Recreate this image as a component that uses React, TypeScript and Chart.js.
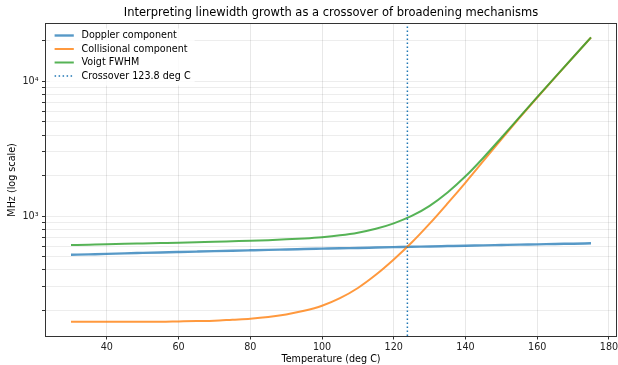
import React, { useEffect, useRef } from 'react';
import { Chart, registerables } from 'chart.js';

Chart.register(...registerables);

// ---- Data ----
const temperatures = [30, 35, 40, 45, 50, 55, 60, 65, 70, 75, 80, 85, 90, 95, 100, 105, 110, 115, 120, 125, 130, 135, 140, 145, 150, 155, 160, 165, 170, 175];
const dopplerMHz = [518, 522, 526, 531, 535, 539, 543, 547, 551, 555, 559, 563, 567, 571, 575, 579, 582, 586, 590, 594, 597, 601, 605, 608, 612, 616, 619, 623, 626, 630];
const collisionalMHz = [165, 165, 165, 165, 165, 165, 166, 167, 168, 171, 174, 179, 187, 199, 217, 247, 294, 368, 478, 638, 881, 1245, 1778, 2570, 3715, 5333, 7586, 10715, 15066, 21135];
const voigtMHz = [612, 616, 620, 625, 629, 633, 637, 642, 646, 652, 658, 665, 674, 685, 700, 722, 755, 807, 886, 1005, 1195, 1500, 1976, 2716, 3820, 5408, 7640, 10754, 15094, 21155];
const crossoverTemp = 123.8;

const seriesLabels = ['Doppler component', 'Collisional component', 'Voigt FWHM', 'Crossover 123.8 deg C'];
const chartTitle = 'Interpreting linewidth growth as a crossover of broadening mechanisms';
const xAxisTitle = 'Temperature (deg C)';
const yAxisTitle = 'MHz (log scale)';

const xMin = 22.75;
const xMax = 182.25;
const xTickStep = 20;
const yMin = 129.5;
const yMax = 26700;
const yGridValues = [200, 300, 400, 500, 600, 700, 800, 900, 1000, 2000, 3000, 4000, 5000, 6000, 7000, 8000, 9000, 10000, 20000];
const yTickLabels: Record<number, string> = { 1000: '10³', 10000: '10⁴' };

const FONT = '"DejaVu Sans", "Liberation Sans", sans-serif';
const FS = 9.6;

const toPoints = (ys: number[]) => temperatures.map((t, i) => ({ x: t, y: ys[i] }));

const frameLegendPlugin = {
  id: 'frameLegend',
  afterDraw(chart: any) {
    const { ctx, chartArea: a } = chart;
    ctx.save();
    // frame (all four spines)
    ctx.strokeStyle = '#333';
    ctx.lineWidth = 1;
    const l = Math.floor(a.left) + 0.5;
    const t = Math.floor(a.top) + 0.5;
    const r = Math.floor(a.right) - 0.5;
    const b = Math.floor(a.bottom) + 0.5;
    ctx.strokeRect(l, t, r - l, b - t);

    // title centred over the plot area
    ctx.fillStyle = '#000';
    ctx.font = `11.5px ${FONT}`;
    ctx.textAlign = 'center';
    ctx.textBaseline = 'middle';
    ctx.fillText(chartTitle, (a.left + a.right) / 2, 13);

    // legend inside the plot area, upper left
    const ds = chart.data.datasets;
    ctx.font = `${FS}px ${FONT}`;
    const rowH = 13.5;
    const boxX = a.left + 4.8;
    const boxY = a.top + 4.8;
    const handleX0 = a.left + 9.6;
    const handleLen = 19.2;
    const textX = handleX0 + handleLen + 7.7;
    let maxW = 0;
    ds.forEach((d: any) => { maxW = Math.max(maxW, ctx.measureText(d.label).width); });
    const boxW = textX + maxW + 4 - boxX;
    const boxH = 4 * rowH + 3;
    ctx.fillStyle = 'rgba(255,255,255,0.8)';
    ctx.beginPath();
    if ((ctx as any).roundRect) (ctx as any).roundRect(boxX, boxY, boxW, boxH, 3);
    else ctx.rect(boxX, boxY, boxW, boxH);
    ctx.fill();

    ds.forEach((d: any, i: number) => {
      const cy = a.top + 11.7 + i * rowH;
      ctx.save();
      ctx.strokeStyle = d.borderColor;
      ctx.lineWidth = d.borderWidth;
      ctx.setLineDash(d.borderDash || []);
      ctx.beginPath();
      ctx.moveTo(handleX0, cy);
      ctx.lineTo(handleX0 + handleLen, cy);
      ctx.stroke();
      ctx.restore();
      ctx.fillStyle = '#000';
      ctx.textBaseline = 'middle';
      ctx.textAlign = 'left';
      ctx.fillText(d.label, textX, cy);
    });
    ctx.restore();
  },
};

export default function App() {
  const canvasRef = useRef<HTMLCanvasElement | null>(null);

  useEffect(() => {
    document.body.style.margin = '0';
    const canvas = canvasRef.current;
    if (!canvas) return;
    Chart.defaults.font.family = FONT;

    const chart = new Chart(canvas, {
      type: 'line',
      data: {
        datasets: [
          {
            label: seriesLabels[0],
            data: toPoints(dopplerMHz),
            borderColor: 'rgba(31,119,180,0.75)',
            borderWidth: 2.4,
            pointRadius: 0,
            fill: false,
            cubicInterpolationMode: 'monotone',
            order: 3,
          },
          {
            label: seriesLabels[1],
            data: toPoints(collisionalMHz),
            borderColor: 'rgba(255,127,14,0.8)',
            borderWidth: 2,
            pointRadius: 0,
            fill: false,
            cubicInterpolationMode: 'monotone',
            order: 2,
          },
          {
            label: seriesLabels[2],
            data: toPoints(voigtMHz),
            borderColor: 'rgba(44,160,44,0.8)',
            borderWidth: 2,
            pointRadius: 0,
            fill: false,
            cubicInterpolationMode: 'monotone',
            order: 1,
          },
          {
            label: seriesLabels[3],
            data: [{ x: crossoverTemp, y: yMin }, { x: crossoverTemp, y: yMax }],
            borderColor: '#1f77b4',
            borderWidth: 1.5,
            borderDash: [1.5, 2.5],
            pointRadius: 0,
            fill: false,
            order: 0,
          },
        ] as any,
      },
      options: {
        animation: false,
        responsive: false,
        devicePixelRatio: 1,
        layout: { padding: { left: 0, right: 1, top: 23.8, bottom: 0 } },
        plugins: {
          legend: { display: false },
          tooltip: { enabled: false },
          title: { display: false },
        },
        scales: {
          x: {
            type: 'linear',
            min: xMin,
            max: xMax,
            border: { display: false },
            grid: {
              color: 'rgba(0,0,0,0.09)',
              lineWidth: 1,
              tickColor: '#333',
              tickLength: 3.5,
              tickWidth: 1,
            },
            ticks: {
              stepSize: xTickStep,
              includeBounds: false,
              autoSkip: false,
              maxRotation: 0,
              padding: 2,
              color: '#222',
              font: { family: FONT, size: FS },
            },
            title: {
              display: true,
              text: xAxisTitle,
              color: '#000',
              font: { family: FONT, size: FS },
              padding: { top: 0, bottom: 0 },
            },
            afterFit: (s: any) => {
              s.height = 29;
              s.paddingLeft = 0;
              s.paddingRight = 0;
            },
          },
          y: {
            type: 'logarithmic',
            min: yMin,
            max: yMax,
            border: { display: false },
            grid: {
              color: 'rgba(0,0,0,0.07)',
              lineWidth: 1,
              tickColor: '#333',
              tickLength: 3,
              tickWidth: 1,
            },
            afterBuildTicks: (axis: any) => {
              axis.ticks = yGridValues.map((v) => ({ value: v }));
            },
            ticks: {
              autoSkip: false,
              padding: 3.5,
              color: '#222',
              font: { family: FONT, size: FS },
              callback: (v: any) => yTickLabels[Number(v)] ?? '',
            },
            title: {
              display: true,
              text: yAxisTitle,
              color: '#000',
              font: { family: FONT, size: FS },
              padding: { top: 7, bottom: 0 },
            },
            afterFit: (s: any) => {
              s.width = 45;
              s.paddingTop = 0;
              s.paddingBottom = 0;
            },
          },
        },
      } as any,
      plugins: [frameLegendPlugin],
    });

    return () => chart.destroy();
  }, []);

  return (
    <div style={{ width: 618, height: 365 }}>
      <canvas ref={canvasRef} width={618} height={365} style={{ display: 'block' }} />
    </div>
  );
}
